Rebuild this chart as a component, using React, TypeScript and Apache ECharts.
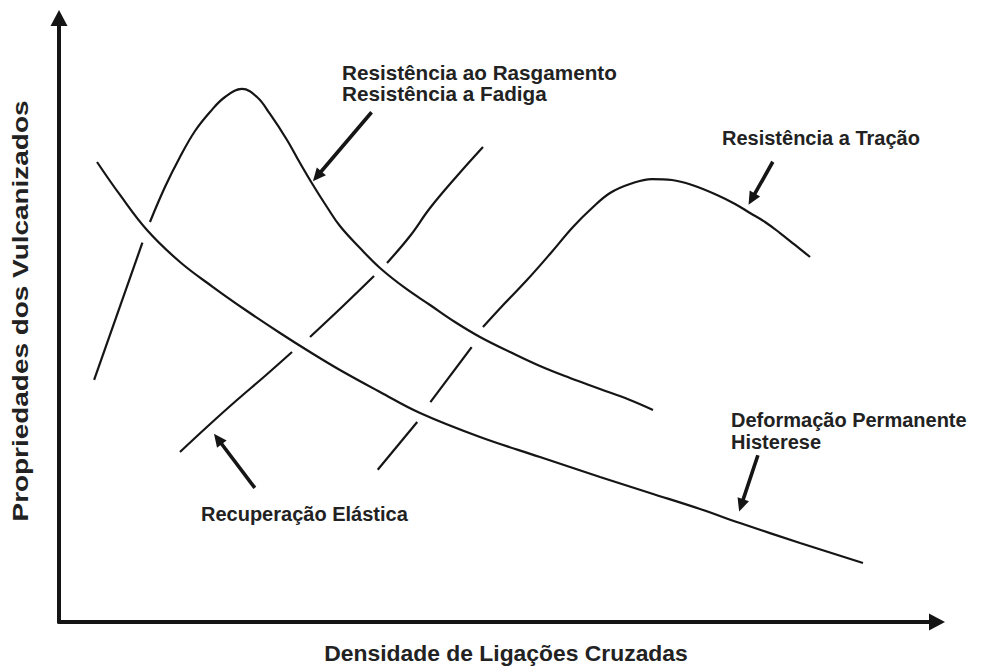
import React, { useEffect, useRef } from "react";
import * as echarts from "echarts";

// Curves (x: crosslink density, y: property value, arbitrary 0-100 units).
// Each curve is split into segments where the original drawing leaves gaps at crossings.
const tearFatigueSegments: number[][][] = [
  [[4.0, 40.1], [9.5, 62.8]],
  [
    [10.36, 66.23], [12.07, 72.02], [13.78, 76.99], [15.49, 81.29], [17.2, 84.44],
    [18.91, 86.92], [20.84, 88.25], [22.55, 86.92], [24.03, 84.11], [25.97, 79.8],
    [27.45, 75.99], [28.93, 72.35], [30.52, 68.71], [32.0, 65.56], [34.28, 61.92],
    [36.56, 58.61], [39.41, 55.3], [42.26, 52.48], [45.1, 49.67], [47.95, 47.19],
    [51.37, 44.7], [54.78, 42.38], [58.2, 40.4], [61.62, 38.58], [65.03, 36.75], [67.65, 35.1],
  ],
];

const tensileSegments: number[][][] = [
  [[36.3, 25.2], [40.8, 33.1]],
  [[42.3, 36.4], [47.0, 45.5]],
  [
    [48.29, 48.84], [50.8, 52.81], [53.3, 56.62], [55.92, 60.93], [58.54, 65.4],
    [60.71, 68.54], [62.76, 71.03], [65.03, 72.52], [67.54, 73.34], [69.82, 73.18],
    [72.1, 72.35], [74.94, 70.7], [77.0, 69.21], [78.7, 67.72], [80.41, 66.23],
    [82.12, 64.4], [83.83, 62.42], [85.54, 60.43],
  ],
];

const elasticRecoverySegments: number[][][] = [
  [[13.78, 28.15], [16.97, 32.45], [20.27, 36.75], [23.46, 40.73], [26.54, 44.7]],
  [[28.59, 47.19], [32.23, 52.15], [35.88, 57.28]],
  [[37.36, 59.44], [39.98, 63.91], [42.26, 68.54], [45.33, 73.84], [48.29, 78.64]],
];

const permanentSetSegments: number[][][] = [
  [
    [4.33, 76.16], [6.95, 70.7], [10.02, 64.9], [13.78, 59.6], [17.54, 55.46],
    [21.41, 51.49], [25.17, 47.85], [28.59, 44.7], [32.0, 41.72], [36.56, 38.08],
    [41.12, 34.6], [47.95, 30.63], [54.78, 27.32], [61.62, 24.01], [67.31, 21.36],
    [73.01, 18.71], [77.56, 16.39], [84.4, 13.08], [91.57, 9.77],
  ],
];

// Pointer arrows: [from, to] in data units
const pointerArrows: number[][][] = [
  [[35.6, 84.4], [29.4, 73.8]],
  [[81.3, 76.2], [78.9, 70.0]],
  [[22.3, 22.2], [18.1, 30.3]],
  [[79.6, 27.6], [77.7, 19.3]],
];

const xTitle = "Densidade de Ligações Cruzadas";
const yTitle = "Propriedades dos Vulcanizados";
const labelTear = "Resistência ao Rasgamento\nResistência a Fadiga";
const labelTensile = "Resistência a Tração";
const labelPermanent = "Deformação Permanente\nHisterese";
const labelRecovery = "Recuperação Elástica";

const FONT = 'Arial, "Liberation Sans", Helvetica, sans-serif';
const INK = "#151515";
const TXT = "#222222";

export default function App() {
  const ref = useRef<HTMLDivElement>(null);

  useEffect(() => {
    if (!ref.current) return;
    const chart = echarts.init(ref.current, undefined, { renderer: "svg" });

    const curveSeries: any[] = [];
    const addCurve = (segs: number[][][], name: string) => {
      segs.forEach((seg, i) => {
        curveSeries.push({
          type: "line",
          name: name + "-" + i,
          data: seg,
          smooth: 0.4,
          showSymbol: false,
          symbol: "none",
          silent: true,
          lineStyle: { color: INK, width: 2.2 },
          z: 3,
        });
      });
    };
    addCurve(tearFatigueSegments, "tear");
    addCurve(tensileSegments, "tensile");
    addCurve(elasticRecoverySegments, "recovery");
    addCurve(permanentSetSegments, "permanent");

    curveSeries.push({
      type: "line",
      name: "arrows",
      data: [],
      silent: true,
      markLine: {
        silent: true,
        animation: false,
        symbol: ["none", "triangle"],
        symbolSize: [12, 13],
        label: { show: false },
        lineStyle: { color: INK, width: 3.6, type: "solid" },
        emphasis: { disabled: true },
        data: pointerArrows.map(([a, b]) => [{ coord: a }, { coord: b }]),
      },
    });

    const textStyle = (extra: any) => ({
      font: `bold 20px ${FONT}`,
      fill: TXT,
      lineHeight: 21,
      ...extra,
    });

    chart.setOption({
      animation: false,
      backgroundColor: "#ffffff",
      grid: { left: 59, right: 45, top: 18, bottom: 46, containLabel: false },
      xAxis: {
        type: "value",
        min: 0,
        max: 100,
        axisLine: {
          show: true,
          symbol: ["none", "triangle"],
          symbolSize: [17, 16],
          lineStyle: { color: INK, width: 4 },
        },
        axisTick: { show: false },
        axisLabel: { show: false },
        splitLine: { show: false },
      },
      yAxis: {
        type: "value",
        min: 0,
        max: 100,
        axisLine: {
          show: true,
          symbol: ["none", "triangle"],
          symbolSize: [17, 16],
          lineStyle: { color: INK, width: 4 },
        },
        axisTick: { show: false },
        axisLabel: { show: false },
        splitLine: { show: false },
      },
      series: curveSeries,
      graphic: [
        {
          type: "text",
          x: 342,
          y: 63,
          scaleX: 1.035,
          silent: true,
          style: textStyle({ text: labelTear, textAlign: "left", textVerticalAlign: "top" }),
        },
        {
          type: "text",
          x: 722,
          y: 127,
          silent: true,
          style: textStyle({ text: labelTensile, textAlign: "left", textVerticalAlign: "top" }),
        },
        {
          type: "text",
          x: 731,
          y: 409,
          silent: true,
          style: textStyle({ text: labelPermanent, textAlign: "left", textVerticalAlign: "top", lineHeight: 22 }),
        },
        {
          type: "text",
          x: 201,
          y: 503,
          silent: true,
          style: textStyle({ text: labelRecovery, textAlign: "left", textVerticalAlign: "top" }),
        },
        {
          type: "text",
          x: 506,
          y: 654,
          scaleX: 1.04,
          silent: true,
          style: {
            text: xTitle,
            font: `bold 22px ${FONT}`,
            fill: TXT,
            textAlign: "center",
            textVerticalAlign: "middle",
          },
        },
        {
          type: "text",
          x: 20,
          y: 311,
          rotation: Math.PI / 2,
          scaleX: 1.27,
          silent: true,
          style: {
            text: yTitle,
            font: `bold 22px ${FONT}`,
            fill: TXT,
            textAlign: "center",
            textVerticalAlign: "middle",
          },
        },
      ],
    });

    return () => chart.dispose();
  }, []);

  return <div ref={ref} style={{ width: 982, height: 668, position: "absolute", left: 0, top: 0 }} />;
}
